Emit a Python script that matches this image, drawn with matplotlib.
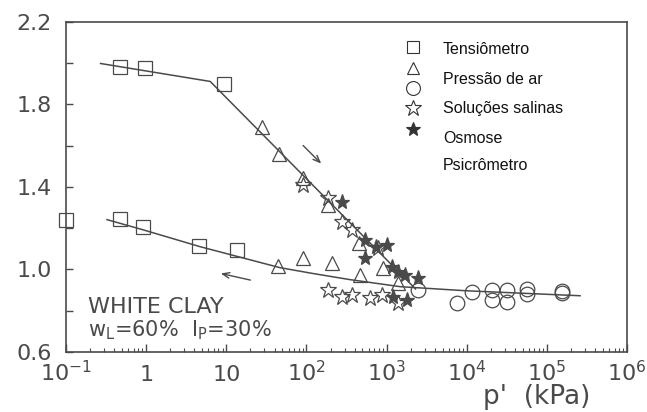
import matplotlib.pyplot as plt
import numpy as np

# suction p' (kPa) and void ratio read for each measuring technique
p_square = [0.47, 0.97, 9.4, 0.1, 0.47, 0.91, 4.6, 13.7]
e_square = [1.979, 1.974, 1.90, 1.24, 1.246, 1.207, 1.115, 1.095]

p_triangle = [28, 46, 92, 186, 450, 900, 1400, 44, 91, 209, 470]
e_triangle = [1.692, 1.561, 1.445, 1.313, 1.129, 1.008, 0.935, 1.017, 1.056, 1.032, 0.974]

p_circle = [2460, 7600, 1.17e4, 2.1e4, 2.1e4, 3.2e4, 3.2e4, 5.7e4, 5.7e4, 1.55e5, 1.55e5]
e_circle = [0.901, 0.838, 0.891, 0.90, 0.852, 0.90, 0.843, 0.906, 0.88, 0.896, 0.886]

p_star = [91, 186, 280, 370, 785, 187, 279, 372, 624, 881, 1396]
e_star = [1.41, 1.348, 1.231, 1.192, 1.105, 0.90, 0.867, 0.877, 0.862, 0.877, 0.838]

p_fstar = [280, 540, 730, 1000, 540, 1175, 1396, 1706, 2477, 1208, 1807]
e_fstar = [1.328, 1.143, 1.11, 1.12, 1.056, 1.013, 0.988, 0.974, 0.959, 0.867, 0.852]

# drying (upper) and wetting (lower) trend lines
p_dry = [0.27, 6.3, 2300]
e_dry = [1.998, 1.911, 0.905]
p_wet = [0.325, 0.91, 4.7, 47, 120, 352, 1480, 1.0e4, 2.6e5]
e_wet = [1.241, 1.192, 1.110, 1.008, 0.980, 0.950, 0.916, 0.896, 0.872]

legend_labels = ['Tensiômetro', 'Pressão de ar', 'Soluções salinas', 'Osmose', 'Psicrômetro']

x_ticks = [1e-1, 1, 10, 1e2, 1e3, 1e4, 1e5, 1e6]
x_ticklabels = ['$10^{-1}$', '1', '10', '$10^2$', '$10^3$', '$10^4$', '$10^5$', '$10^6$']
y_ticks = [0.6, 0.8, 1.0, 1.2, 1.4, 1.6, 1.8, 2.0, 2.2]
y_ticklabels = ['0.6', '', '1.0', '', '1.4', '', '1.8', '', '2.2']

ink = '#4a4a4a'

fig = plt.figure(figsize=(6.47, 4.12), dpi=100)
ax = fig.add_axes([0.102, 0.146, 0.867, 0.801])
ax.set_xscale('log')
ax.set_xlim(0.1, 1e6)
ax.set_ylim(0.6, 2.2)

ax.plot(p_dry, e_dry, color=ink, lw=1.1, zorder=2)
ax.plot(p_wet, e_wet, color=ink, lw=1.1, zorder=2)

mk = dict(ls='none', mec=ink, mew=0.9, clip_on=False, zorder=3)
ax.plot(p_square, e_square, marker='s', ms=9.5, mfc='none', **mk)
ax.plot(p_triangle, e_triangle, marker='^', ms=9.5, mfc='none', **mk)
ax.plot(p_circle, e_circle, marker='o', ms=10.5, mfc='none', **mk)
ax.plot(p_star, e_star, marker='*', ms=12, mfc='none', **mk)
ax.plot(p_fstar, e_fstar, marker='*', ms=11, mfc=ink, **mk)

# direction arrows for drying and wetting paths
arr = dict(arrowstyle='->,head_length=0.5,head_width=0.2', color=ink, lw=1)
ax.annotate('', xy=(162, 1.503), xytext=(86, 1.61), arrowprops=arr)
ax.annotate('', xy=(7.9, 0.983), xytext=(21.6, 0.945), arrowprops=arr)

ax.text(0.039, 0.136, 'WHITE CLAY', transform=ax.transAxes, fontsize=16,
        color=ink, va='center', ha='left')
ax.text(0.039, 0.067, r'w$_\mathregular{L}$=60%  I$_\mathregular{P}$=30%',
        transform=ax.transAxes, fontsize=15, color=ink, va='center', ha='left')

# legend keys and labels are placed separately
key_y = [0.924, 0.861, 0.800, 0.739, 0.676]
text_y = [0.915, 0.824, 0.736, 0.648, 0.564]
key_style = [dict(marker='s', ms=9, mfc='none'), dict(marker='^', ms=9, mfc='none'),
             dict(marker='o', ms=10, mfc='none'), dict(marker='*', ms=12, mfc='none'),
             dict(marker='*', ms=10, mfc='#333')]
for ky, st in zip(key_y, key_style):
    ax.plot([0.6185], [ky], transform=ax.transAxes, ls='none', mec='#333', mew=0.8, **st)
for ty, lab in zip(text_y, legend_labels):
    ax.text(0.672, ty, lab, transform=ax.transAxes, fontsize=11.5,
            family='Liberation Sans', color='#111', va='center', ha='left')

for s in ax.spines.values():
    s.set_color(ink)
    s.set_linewidth(1.2)

ax.set_xticks(x_ticks)
ax.set_xticklabels(x_ticklabels)
ax.xaxis.set_minor_locator(plt.LogLocator(base=10, subs=np.arange(2, 10), numticks=20))
ax.xaxis.set_minor_formatter(plt.NullFormatter())
ax.set_yticks(y_ticks)
ax.set_yticklabels(y_ticklabels)

ax.tick_params(axis='x', which='major', direction='in', length=6, width=1,
               color=ink, labelcolor=ink, labelsize=16, pad=21)
ax.tick_params(axis='x', which='minor', direction='in', length=3, width=0.8, color=ink)
ax.tick_params(axis='y', direction='in', length=5, width=1, color=ink,
               labelcolor=ink, labelsize=16, pad=10)
plt.setp(ax.get_xticklabels(), va='baseline')

fig.text(0.829, 0.036, "p'  (kPa)", fontsize=19, color=ink, ha='center', va='center')

fig.savefig('out.png', dpi=100)
